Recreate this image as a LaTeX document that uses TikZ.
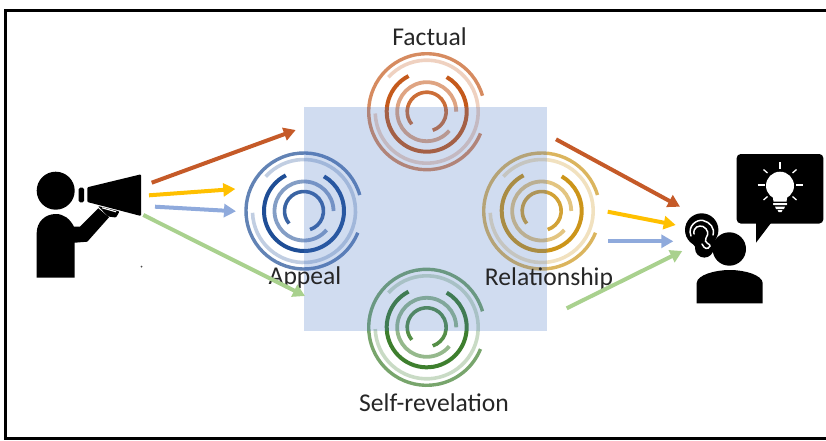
\documentclass[tikz,border=0pt]{standalone}
\usepackage{fontspec}
\setmainfont{Carlito}
\usetikzlibrary{arrows.meta}
\definecolor{cbrown}{HTML}{C55A28}
\definecolor{cyellow}{HTML}{FFC000}
\definecolor{cblue}{HTML}{8FAADC}
\definecolor{cgreen}{HTML}{A9D18E}
\definecolor{rbrown}{HTML}{C55A1C}
\definecolor{rblue}{HTML}{1F4E96}
\definecolor{rgold}{HTML}{CC951A}
\definecolor{rgreen}{HTML}{3E7F2E}
\definecolor{sq}{HTML}{4472C4}
\tikzset{
  flow/.style={line width=4pt,-{Triangle[length=12pt,width=13pt]},shorten >=0pt},
  lbl/.style={font=\fontsize{25.6}{28}\selectfont,text=black!85,inner sep=0pt,anchor=base},
  icon/.style={fill=black,draw=none},
  cut/.style={draw=white,line cap=round,fill=none},
}
\newcommand{\ringset}[3]{%
\begin{scope}[shift={(#1,#2)},y=1pt]
 \draw[#3,draw opacity=.7,line width=3.4pt] (16:58) arc[start angle=16,end angle=338,radius=58];
 \draw[#3,draw opacity=.28,line width=3.6pt] (138:51.5) arc[start angle=138,end angle=-178,radius=51.5];
 \draw[#3,draw opacity=1,line width=4pt] (117:40) arc[start angle=117,end angle=420,radius=40];
 \draw[#3,draw opacity=.55,line width=3.8pt] (0:29.5) arc[start angle=0,end angle=320,radius=29.5];
 \draw[#3,draw opacity=.88,line width=3.6pt] (220:19.5) arc[start angle=220,end angle=-72,radius=19.5];
\end{scope}}
\begin{document}
\begin{tikzpicture}[x=1pt,y=-1pt]
\useasboundingbox (0,0) rectangle (826,441);
% frame
\draw[line width=3pt,line cap=butt] (826,10.5) -- (5.5,10.5) -- (5.5,438.5) -- (826,438.5);
% rings
\ringset{426.7}{111.7}{rbrown}
\ringset{304}{211}{rblue}
\ringset{541.7}{211}{rgold}
\ringset{426.7}{327.3}{rgreen}
% square
\fill[sq,fill opacity=.25] (304,107) rectangle (547,331);
% labels
\node[lbl] (factual) at (429.5,46) {Factual};
\node[lbl] (appeal) at (305,284) {Appeal};
\node[lbl] (relationship) at (549,285) {Relationship};
\node[lbl] (selfrev) at (434,411) {Self-revelation};
% speaker
\fill[icon] (55.7,190.7) circle[radius=19];
\fill[icon] (36.7,277.7) -- (36.7,233) .. controls (36.7,222) and (45,214) .. (55.7,214)
  .. controls (64,214) and (70,219) .. (74,226.7) -- (80,226.7) -- (98.3,208.3) -- (109,217.3) -- (87.3,241.7) -- (74.7,242.7) -- (74.7,277.7) -- cycle;
\fill[icon,rounded corners=1.5pt] (78.7,187.7) rectangle (84,202.3);
\fill[icon,rounded corners=1pt] (87.3,187.3) -- (141,174.3) -- (141,216) -- (87.3,202) -- cycle;
\fill[icon,rounded corners=1pt] (98,206) -- (119.5,211.5) -- (116,217.5) -- (108,216.5) -- cycle;
\draw[white,line width=1.1pt] (102,207.8) -- (116,211.8);
\fill[black!70] (141.5,266.5) circle[radius=1];
% listener
\fill[icon] (729.3,249) circle[radius=16.7];
\fill[icon] (696.7,303.3) -- (696.7,283) .. controls (697,275) and (715,270) .. (729.7,270) .. controls (745,270) and (762,275) .. (762.7,283) -- (762.7,303.3) -- cycle;
\fill[icon] (701.7,230) circle[radius=16.7];
\fill[icon] (704.3,248.3) circle[radius=9.3];
\fill[icon] (687,236) -- (716,238) -- (712,252) -- (696,248) -- cycle;
\draw[cut,line width=1.5pt] (691,236) .. controls (687,226) and (697,219) .. (703,220.5) .. controls (710,222) and (715,228) .. (713,235);
\draw[cut,line width=1.5pt] (694,234) .. controls (693,227) and (699,225) .. (703,226.5) .. controls (708,229) and (709,234) .. (706,238) .. controls (703,243) and (711,244) .. (710,246) .. controls (708,250) and (704,249) .. (702,244);
% bubble
\fill[icon,rounded corners=4pt] (736.7,154) rectangle (823.3,223.5);
\fill[icon] (756,222) -- (756,242.7) -- (771.7,222) -- cycle;
% bulb
\fill[white] (780,185.7) circle[radius=14];
\fill[white] (772,192) -- (788,192) -- (786.5,201.5) -- (773.5,201.5) -- cycle;
\fill[white,rounded corners=.5pt] (773,203) rectangle (787,205);
\fill[white] (775,206.5) -- (785,206.5) -- (784,209) -- (776,209) -- cycle;
\fill[white] (777.5,210) -- (782.5,210) -- (781.5,212) -- (778.5,212) -- cycle;
\foreach \a/\b/\c/\d in {780/162/780/168.5, 763.5/169.5/767.5/173, 796.5/169.5/792.5/173, 757.5/185/764.5/185, 796/185/803/185, 763.5/200/767.5/196.5, 796.5/200/792.5/196.5}
  \draw[white,line width=1.3pt] (\a,\b) -- (\c,\d);
% connector ends
\coordinate (s1) at (151.7,182.7); \coordinate (e1) at (295.7,130);
\coordinate (s2) at (149,195.3);  \coordinate (e2) at (235.3,189);
\coordinate (s3) at (155,206.7);  \coordinate (e3) at (236,211.3);
\coordinate (s4) at (143.3,215);  \coordinate (e4) at (305,296);
\coordinate (s5) at (556,139.3);  \coordinate (e5) at (680,206.7);
\coordinate (s6) at (607.7,211.7);\coordinate (e6) at (675.7,225);
\coordinate (s7) at (608.3,241.3);\coordinate (e7) at (673.3,241.3);
\coordinate (s8) at (566.7,308.3);\coordinate (e8) at (682.3,251);
\draw[flow,cbrown] (s1) -- (e1);
\draw[flow,cyellow] (s2) -- (e2);
\draw[flow,cblue] (s3) -- (e3);
\draw[flow,cgreen] (s4) -- (e4);
\draw[flow,cbrown] (s5) -- (e5);
\draw[flow,cyellow] (s6) -- (e6);
\draw[flow,cblue] (s7) -- (e7);
\draw[flow,cgreen] (s8) -- (e8);
\end{tikzpicture}
\end{document}
